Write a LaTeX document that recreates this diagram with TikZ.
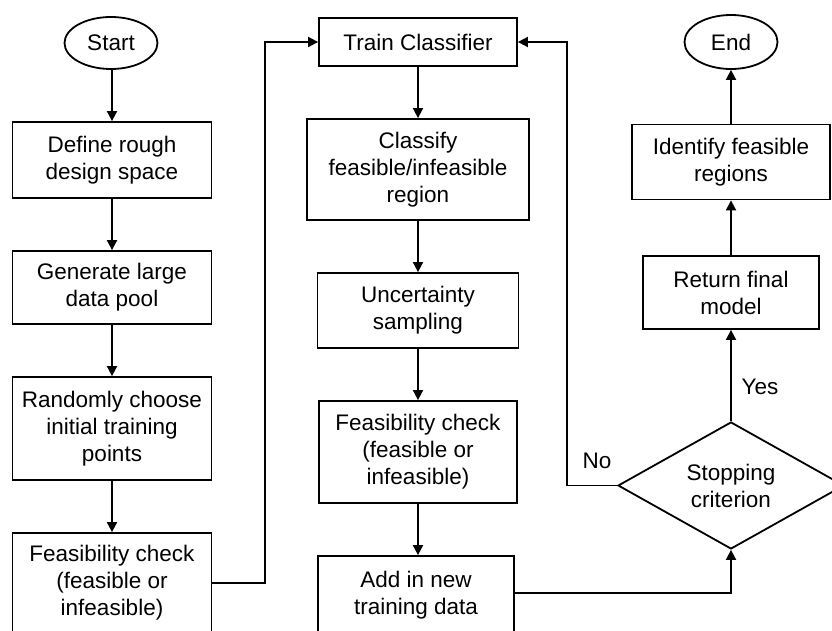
\documentclass[tikz,border=0pt]{standalone}
\usepackage{fontspec}
\setmainfont{Liberation Sans}
\usetikzlibrary{shapes.geometric,arrows.meta}
\begin{document}
\begin{tikzpicture}[x=1pt,y=-1pt,
  every node/.style={font=\fontsize{22.5}{27}\selectfont},
  box/.style={draw,line width=1.8pt,rectangle,align=center,inner sep=0pt},
  term/.style={draw,line width=1.8pt,ellipse,inner sep=0pt},
  dec/.style={draw,line width=1.8pt,diamond,aspect=1.78,inner sep=0pt,align=center},
  arr/.style={line width=1.8pt,-{Triangle[width=10pt,length=10pt]}},
  lbl/.style={inner sep=0pt}]
\useasboundingbox (0,0) rectangle (832,631);
\clip (0,0) rectangle (832,631);
% left column
\node[term,minimum width=93pt,minimum height=52pt] (start) at (111,43) {Start};
\node[box,minimum width=199pt,minimum height=76pt] (define) at (112,160) {Define rough\\design space};
\node[box,minimum width=199pt,minimum height=73pt] (gen) at (112,287.5) {Generate large\\data pool};
\node[box,minimum width=199pt,minimum height=103pt] (rand) at (112,428.5) {Randomly choose\\initial training\\points};
\node[box,minimum width=199pt,minimum height=100pt] (feas1) at (112,583) {Feasibility check\\(feasible or\\infeasible)};
% middle column
\node[box,minimum width=198pt,minimum height=48pt] (train) at (418,42) {Train Classifier};
\node[box,minimum width=222pt,minimum height=101pt] (class) at (418,169.5) {Classify\\feasible/infeasible\\region};
\node[box,minimum width=201pt,minimum height=75pt] (unc) at (418,310.5) {Uncertainty\\sampling};
\node[box,minimum width=198pt,minimum height=102pt] (feas2) at (418,452) {Feasibility check\\(feasible or\\infeasible)};
\node[box,minimum width=196pt,minimum height=78pt] (add) at (416,595) {Add in new\\training data};
% right column
\node[term,minimum width=93pt,minimum height=54pt] (end) at (731,42) {End};
\node[box,minimum width=198pt,minimum height=75pt] (ident) at (731,162) {Identify feasible\\regions};
\node[box,minimum width=176pt,minimum height=73pt] (ret) at (731,292.5) {Return final\\model};
\node[dec,minimum width=226pt,minimum height=127pt] (stop) at (731,485.5) {Stopping\\criterion};
% labels
\node[lbl] (yes) at (760,387) {Yes};
\node[lbl] (no) at (597,461) {No};
% helper coordinates
\coordinate (c1) at (265,42);
\coordinate (c2) at (567,42);
% connectors
\draw[arr] (start.south -| define.north) -- (define.north);
\draw[arr] (define) -- (gen);
\draw[arr] (gen) -- (rand);
\draw[arr] (rand) -- (feas1);
\draw[arr] (feas1.east) -| (c1) -- (train.west);
\draw[arr] (train) -- (class);
\draw[arr] (class) -- (unc);
\draw[arr] (unc) -- (feas2);
\draw[arr] (feas2) -- (add.north -| feas2.south);
\draw[arr] ([yshift=2pt]add.east) -| (stop.south);
\draw[arr] (stop.west) -| (c2) -- (train.east);
\draw[arr] (stop) -- (ret);
\draw[arr] (ret) -- (ident);
\draw[arr] (ident) -- (end);
\end{tikzpicture}
\end{document}
